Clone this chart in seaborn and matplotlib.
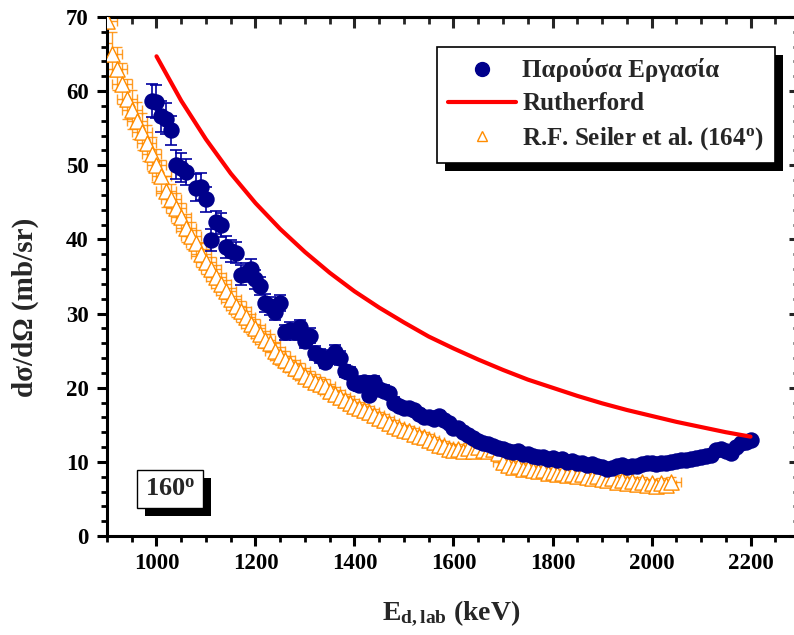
import numpy as np
import pandas as pd
import matplotlib
matplotlib.use("Agg")
import matplotlib.pyplot as plt
from matplotlib.patches import Rectangle
from matplotlib.ticker import MultipleLocator
from matplotlib.lines import Line2D
import seaborn as sns

# ---------------- data ----------------
work_E = [990, 1000, 1010, 1020, 1030, 1040, 1050, 1060, 1080, 1090, 1100, 1110, 1120, 1130,
          1140, 1150, 1160, 1170, 1180, 1190, 1200, 1210, 1220, 1230, 1240, 1250, 1260, 1270,
          1280, 1290, 1300, 1310, 1320, 1330, 1340, 1350, 1360, 1370, 1380, 1390, 1400, 1410,
          1420, 1430, 1440, 1450, 1460, 1470, 1480, 1490, 1500, 1510, 1520, 1530, 1540, 1550,
          1560, 1570, 1580, 1590, 1600, 1610, 1620, 1630, 1640, 1650, 1660, 1670, 1680, 1690,
          1700, 1710, 1720, 1730, 1740, 1750, 1760, 1770, 1780, 1790, 1800, 1810, 1820, 1830,
          1840, 1850, 1860, 1870, 1880, 1890, 1900, 1910, 1920, 1930, 1940, 1950, 1960, 1970,
          1980, 1990, 2000, 2010, 2020, 2030, 2040, 2050, 2060, 2070, 2080, 2090, 2100, 2110,
          2120, 2130, 2140, 2150, 2160, 2170, 2180, 2190, 2200]
work_sig = [58.7, 58.6, 56.6, 56.3, 54.7, 50.1, 49.7, 49.1, 47.0, 47.1, 45.4, 39.9, 42.3, 41.9,
            39.0, 38.4, 38.2, 35.2, 35.5, 36.0, 34.6, 33.7, 31.4, 31.0, 30.2, 31.4, 27.5, 27.8,
            27.5, 28.2, 26.3, 27.0, 24.7, 24.3, 23.5, 24.2, 24.8, 24.0, 22.2, 22.0, 20.7, 20.4,
            20.8, 19.0, 20.8, 19.8, 19.6, 19.3, 18.0, 17.6, 17.3, 17.2, 17.0, 16.5, 16.1, 16.0,
            15.8, 16.2, 15.6, 15.2, 14.6, 14.6, 14.0, 13.6, 13.2, 12.8, 12.6, 12.4, 12.2, 11.9,
            11.7, 11.5, 11.3, 11.5, 11.0, 11.1, 10.8, 10.6, 10.7, 10.4, 10.5, 10.2, 10.4, 10.0,
            10.1, 9.8, 9.9, 9.6, 9.7, 9.4, 9.3, 9.1, 9.2, 9.4, 9.6, 9.3, 9.5, 9.4,
            9.7, 9.9, 9.8, 9.7, 9.9, 9.8, 10.0, 10.1, 10.3, 10.2, 10.4, 10.5, 10.6, 10.8,
            10.9, 11.6, 11.8, 11.5, 11.2, 12.0, 12.5, 12.7, 12.9]
work_err = [2.2, 2.2, 2.1, 2.1, 2.0, 1.9, 1.9, 1.8, 1.8, 1.8, 1.7, 1.5, 1.6, 1.6,
            1.5, 1.5, 1.4, 1.3, 1.3, 1.3, 1.3, 1.2, 1.2, 1.2, 1.1, 1.1, 1.0, 1.0,
            1.0, 1.0, 1.0, 1.0, 0.9, 0.9, 0.9, 0.9, 0.9, 0.9, 0.8, 0.8, 0.8, 0.8,
            0.8, 0.7, 0.8, 0.7, 0.7, 0.7, 0.7, 0.6, 0.6, 0.6, 0.6, 0.6, 0.6, 0.6,
            0.6, 0.6, 0.6, 0.5, 0.5, 0.5, 0.5, 0.5, 0.5, 0.5, 0.5, 0.5, 0.4, 0.4,
            0.4, 0.4, 0.4, 0.4, 0.4, 0.4, 0.4, 0.4, 0.4, 0.4, 0.4, 0.4, 0.4, 0.4,
            0.4, 0.4, 0.4, 0.4, 0.4, 0.4, 0.4, 0.4, 0.4, 0.4, 0.4, 0.4, 0.4, 0.4,
            0.4, 0.4, 0.4, 0.4, 0.4, 0.4, 0.4, 0.4, 0.4, 0.4, 0.4, 0.4, 0.4, 0.4,
            0.4, 0.4, 0.4, 0.4, 0.4, 0.4, 0.4, 0.4, 0.4]

ruth_E = [1000, 1050, 1100, 1150, 1200, 1250, 1300, 1350, 1400, 1450, 1500, 1550, 1600,
          1650, 1700, 1750, 1800, 1850, 1900, 1950, 2000, 2050, 2100, 2150, 2200]
ruth_sig = [64.7, 58.7, 53.5, 48.9, 44.9, 41.4, 38.3, 35.5, 33.0, 30.8, 28.8, 26.9, 25.3,
            23.8, 22.4, 21.1, 20.0, 18.9, 17.9, 17.0, 16.2, 15.4, 14.7, 14.0, 13.4]

seiler_E = [900, 910, 920, 930, 940, 950, 960, 970, 980, 990, 1000, 1010, 1020, 1030,
            1040, 1050, 1060, 1070, 1080, 1090, 1100, 1110, 1120, 1130, 1140, 1150, 1160, 1170,
            1180, 1190, 1200, 1210, 1220, 1230, 1240, 1250, 1260, 1270, 1280, 1290, 1300, 1310,
            1320, 1330, 1340, 1350, 1360, 1370, 1380, 1390, 1400, 1410, 1420, 1430, 1440, 1450,
            1460, 1470, 1480, 1490, 1500, 1510, 1520, 1530, 1540, 1550, 1560, 1570, 1580, 1590,
            1600, 1610, 1620, 1630, 1640, 1650, 1660, 1670, 1680, 1690, 1700, 1710, 1720, 1730,
            1740, 1750, 1760, 1770, 1780, 1790, 1800, 1810, 1820, 1830, 1840, 1850, 1860, 1870,
            1880, 1890, 1900, 1910, 1920, 1930, 1940, 1950, 1960, 1970, 1980, 1990, 2000, 2010,
            2020, 2030, 2040]
seiler_sig = [69.5, 65.0, 63.0, 61.0, 59.0, 57.5, 56.0, 54.5, 53.0, 51.5, 50.0, 48.5, 46.5, 45.5,
              44.2, 43.0, 41.5, 40.5, 39.5, 38.0, 37.0, 36.0, 35.0, 34.0, 33.0, 32.0, 31.0, 30.3,
              29.5, 28.6, 28.0, 27.2, 26.5, 26.0, 25.0, 24.3, 23.8, 23.2, 22.7, 22.2, 21.6, 21.2,
              20.8, 20.5, 20.2, 19.6, 19.2, 18.8, 18.3, 18.0, 17.6, 17.3, 17.0, 16.7, 16.3, 15.9,
              15.6, 15.2, 14.9, 14.6, 14.3, 14.1, 13.8, 13.5, 13.3, 13.0, 12.7, 12.3, 12.1, 11.8,
              11.6, 11.7, 11.4, 11.9, 11.5, 12.0, 11.6, 11.4, 11.8, 11.2, 10.0, 9.6, 9.3, 9.5,
              9.0, 9.2, 8.9, 8.7, 8.9, 8.5, 8.6, 8.3, 8.5, 8.2, 8.4, 8.1, 8.3, 8.0,
              7.8, 8.1, 7.7, 7.5, 7.8, 7.3, 7.6, 7.2, 7.4, 7.0, 7.3, 6.9, 7.1, 6.8,
              7.2, 6.9, 7.3]
seiler_err = [3.0, 3.0, 2.9, 2.8, 2.7, 2.6, 2.5, 2.5, 2.4, 2.3, 2.2, 2.2, 2.1, 2.0,
              2.0, 1.9, 1.9, 1.8, 1.8, 1.7, 1.7, 1.6, 1.6, 1.5, 1.5, 1.5, 1.4, 1.4,
              1.4, 1.3, 1.3, 1.3, 1.2, 1.2, 1.2, 1.2, 1.1, 1.1, 1.1, 1.1, 1.0, 1.0,
              1.0, 1.0, 1.0, 0.9, 0.9, 0.9, 0.9, 0.9, 0.9, 0.8, 0.8, 0.8, 0.8, 0.8,
              0.8, 0.8, 0.8, 0.7, 0.7, 0.7, 0.7, 0.7, 0.7, 0.7, 0.7, 0.7, 0.7, 0.7,
              0.7, 0.7, 0.7, 0.7, 0.7, 0.7, 0.7, 0.7, 0.7, 0.7, 0.6, 0.6, 0.6, 0.6,
              0.6, 0.6, 0.6, 0.6, 0.6, 0.6, 0.6, 0.6, 0.6, 0.6, 0.6, 0.6, 0.6, 0.6,
              0.6, 0.6, 0.6, 0.6, 0.6, 0.6, 0.6, 0.6, 0.6, 0.6, 0.6, 0.6, 0.6, 0.6,
              0.6, 0.6, 0.6]
seiler_Eerr = 20  # keV, horizontal error bar half-width

label_work = "Παρούσα Εργασία"
label_ruth = "Rutherford"
label_seiler = r"R.F. Seiler et al. (164$^\mathrm{o}$)"
angle_text = r"160$^\mathrm{o}$"
xlabel = r"E$_\mathrm{d,lab}$ (keV)"
ylabel = "dσ/dΩ (mb/sr)"

# ---------------- style ----------------
sns.set_theme(style="ticks")
plt.rcParams["font.family"] = ["Liberation Serif", "DejaVu Serif"]
plt.rcParams["font.weight"] = "bold"
plt.rcParams["mathtext.fontset"] = "custom"
plt.rcParams["mathtext.rm"] = "Liberation Serif:bold"
plt.rcParams["mathtext.it"] = "Liberation Serif:bold"
plt.rcParams["mathtext.bf"] = "Liberation Serif:bold"

BLUE = "#00008B"
RED = "#FF0000"
ORANGE = "#FF8C00"

fig = plt.figure(figsize=(7.94, 6.35), dpi=100)
ax = fig.add_axes([107 / 794, 99 / 635, 693 / 794, 519 / 635])

df_work = pd.DataFrame({"E": work_E, "sig": work_sig, "err": work_err})
df_ruth = pd.DataFrame({"E": ruth_E, "sig": ruth_sig})
df_seil = pd.DataFrame({"E": seiler_E, "sig": seiler_sig, "err": seiler_err})

# Seiler data (open triangles with error bars)
ax.errorbar(df_seil["E"], df_seil["sig"], yerr=df_seil["err"], xerr=seiler_Eerr, fmt="none",
            ecolor=ORANGE, elinewidth=1.0, capsize=3.5, capthick=1.0, zorder=2, alpha=0.85)
sns.scatterplot(data=df_seil, x="E", y="sig", ax=ax, marker="^", s=120,
                facecolor="white", edgecolor=ORANGE, linewidth=1.0, zorder=3,
                legend=False)

# Present work (filled circles with error bars)
ax.errorbar(df_work["E"], df_work["sig"], yerr=df_work["err"], fmt="none",
            ecolor="#0000A0", elinewidth=1.2, capsize=4.5, capthick=1.2, zorder=4)
sns.scatterplot(data=df_work, x="E", y="sig", ax=ax, marker="o", s=140,
                color=BLUE, edgecolor=BLUE, linewidth=0, zorder=5, legend=False)

# Rutherford line
sns.lineplot(data=df_ruth, x="E", y="sig", ax=ax, color=RED, linewidth=3,
             estimator=None, sort=True, zorder=6, legend=False)

ax.set_xlim(900, 2300)
ax.set_ylim(0, 70)
ax.xaxis.set_major_locator(MultipleLocator(200))
ax.xaxis.set_minor_locator(MultipleLocator(50))
ax.yaxis.set_major_locator(MultipleLocator(10))
ax.yaxis.set_minor_locator(MultipleLocator(2))
ax.set_xticks([1000, 1200, 1400, 1600, 1800, 2000, 2200])

for s in ax.spines.values():
    s.set_linewidth(2.2)
    s.set_color("black")

ax.tick_params(which="major", direction="out", length=7, width=2.2, labelsize=16.5,
               colors="black", pad=5)
ax.tick_params(which="minor", direction="out", length=4, width=2.0, colors="black")
ax.tick_params(axis="y", which="major", pad=6)
for lab in ax.get_xticklabels() + ax.get_yticklabels():
    lab.set_fontweight("bold")

# top / right inward ticks
secx = ax.secondary_xaxis("top")
secx.xaxis.set_major_locator(MultipleLocator(200))
secx.xaxis.set_minor_locator(MultipleLocator(50))
secx.tick_params(which="major", direction="in", length=8, width=2.2, labeltop=False)
secx.tick_params(which="minor", direction="in", length=5, width=2.0)
secx.spines["top"].set_linewidth(2.2)
secy = ax.secondary_yaxis("right")
secy.yaxis.set_major_locator(MultipleLocator(10))
secy.yaxis.set_minor_locator(MultipleLocator(2))
secy.tick_params(which="major", direction="in", length=8, width=2.2, labelright=False)
secy.tick_params(which="minor", direction="in", length=5, width=2.0)

ax.set_xlabel(xlabel, fontsize=20, fontweight="bold")
ax.xaxis.set_label_coords(0.497, -0.12)
ax.set_ylabel(ylabel, fontsize=21, fontweight="bold")
ax.yaxis.set_label_coords(-0.098, 0.44)

# legend
handles = [
    Line2D([], [], marker="o", ls="none", color=BLUE, markersize=10),
    Line2D([], [], color=RED, lw=3),
    Line2D([], [], marker="^", ls="none", markerfacecolor="white",
           markeredgecolor=ORANGE, markersize=7.5, markeredgewidth=1.0),
]
leg = ax.legend(handles, [label_work, label_ruth, label_seiler],
                loc="upper right", bbox_to_anchor=(0.964, 0.942),
                borderaxespad=0, frameon=True, fancybox=False, framealpha=1,
                edgecolor="black", prop={"family": "Liberation Serif", "weight": "bold", "size": 18},
                handlelength=2.7, handletextpad=0.25, labelspacing=0.4, borderpad=0.45)
leg.get_frame().set_linewidth(1.2)
leg.set_zorder(20)

fig.canvas.draw()
bb = leg.get_window_extent().transformed(ax.transAxes.inverted())
dx = 8 / 693
dy = 8 / 519
ax.add_patch(Rectangle((bb.x0 + dx, bb.y0 - dy), bb.width, bb.height,
                       transform=ax.transAxes, facecolor="black", edgecolor="none",
                       zorder=19, clip_on=False))

# 160° box
t = ax.text((170 - 107) / 693, (536 - 489) / 519, angle_text, transform=ax.transAxes,
            ha="center", va="center", fontsize=19, fontweight="bold", zorder=22,
            bbox=dict(boxstyle="square,pad=0.3", facecolor="white", edgecolor="black",
                      linewidth=1.0))
fig.canvas.draw()
tb = t.get_bbox_patch().get_window_extent().transformed(ax.transAxes.inverted())
ax.add_patch(Rectangle((tb.x0 + dx, tb.y0 - dy), tb.width, tb.height,
                       transform=ax.transAxes, facecolor="black", edgecolor="none",
                       zorder=21, clip_on=False))

fig.savefig("out.png", dpi=100)
